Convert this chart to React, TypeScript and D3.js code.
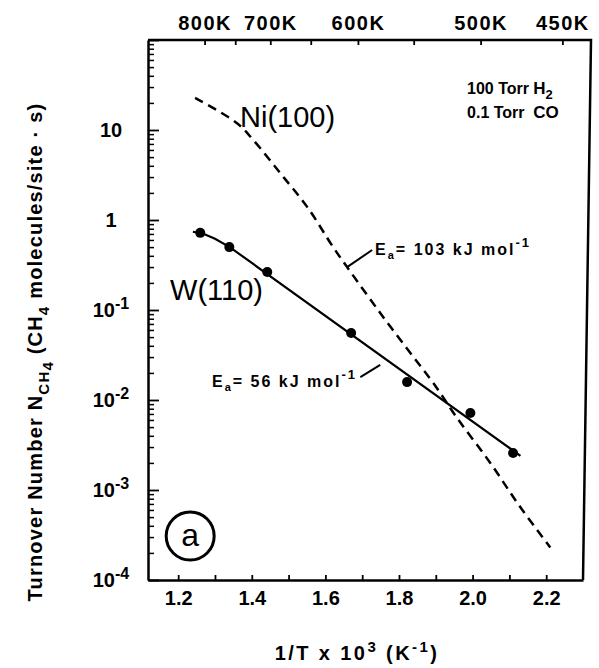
import React, { useEffect, useRef } from 'react';
import * as d3 from 'd3';

// W(110) measured points and fitted line
const w110X = [1.26, 1.339, 1.442, 1.670, 1.822, 1.994, 2.110];
const w110Y = [0.72, 0.50, 0.264, 0.0555, 0.0158, 0.00718, 0.00258];
const w110FitX = [1.24, 1.27, 1.30, 1.34, 2.13];
const w110FitY = [0.74, 0.70, 0.62, 0.50, 0.0024];

// Ni(100) dashed curve
const ni100X = [1.246, 1.360, 1.404, 1.477, 1.551, 1.621, 1.659, 1.749, 1.839, 1.893, 1.958, 2.048, 2.129, 2.211];
const ni100Y = [22.7, 11.9, 7.74, 3.33, 1.39, 0.50, 0.30, 0.0926, 0.0301, 0.0155, 0.0063, 0.0020, 0.00065, 0.00023];

// axes
const xTickValues = [1.2, 1.3, 1.4, 1.5, 1.6, 1.7, 1.8, 1.9, 2.0, 2.1, 2.2];
const xTickLabels = ['1.2', '', '1.4', '', '1.6', '', '1.8', '', '2.0', '', '2.2'];
const topTemps = [800, 750, 700, 650, 600, 550, 500, 450];
const topLabels = ['800K', '', '700K', '', '600K', '', '500K', '450K'];
const yMajor = [1e-4, 1e-3, 1e-2, 1e-1, 1, 10, 100];
const yLabelBase = ['10', '10', '10', '10', '1', '10', ''];
const yLabelExp = ['-4', '-3', '-2', '-1', '', '', ''];

const FONT = "'Liberation Sans', Arial, Helvetica, sans-serif";

export default function App() {
  const ref = useRef<SVGSVGElement>(null);

  useEffect(() => {
    document.body.style.margin = '0';
    const svg = d3.select(ref.current);
    svg.selectAll('*').remove();

    const x = d3.scaleLinear().domain([1.118, 2.300]).range([148, 583]);
    const y = d3.scaleLog().domain([1e-4, 1e2]).range([580, 40]);
    const [x0, x1] = x.range();
    const [yb, yt] = y.range();
    const topShift = 8; // top axis drawn slightly offset, as in the scan

    // ---------- frame / axes ----------
    const bottom = svg.append('g')
      .attr('transform', `translate(0,${yb})`)
      .call(d3.axisBottom(x).tickValues(xTickValues).tickSize(-5).tickSizeOuter(0)
        .tickPadding(11).tickFormat((d, i) => xTickLabels[i]));
    bottom.select('.domain').attr('stroke-width', 2.5);
    bottom.selectAll('.tick line').attr('stroke-width', 1.8);
    bottom.selectAll('.tick text').attr('font-family', FONT).attr('font-size', 20)
      .attr('font-weight', 'bold').attr('fill', '#000');

    const left = svg.append('g')
      .attr('transform', `translate(${x0},0)`)
      .call(d3.axisLeft(y).tickValues(yMajor).tickSize(-11).tickSizeOuter(0).tickFormat(() => ''));
    left.select('.domain').attr('stroke-width', 2.5);
    left.selectAll('.tick line').attr('stroke-width', 1.8);

    const minors: number[] = [];
    for (let e = -4; e < 2; e++) for (let k = 2; k <= 9; k++) minors.push(k * Math.pow(10, e));
    const leftMinor = svg.append('g')
      .attr('transform', `translate(${x0},0)`)
      .call(d3.axisLeft(y).tickValues(minors).tickSize(-6).tickSizeOuter(0).tickFormat(() => ''));
    leftMinor.select('.domain').remove();
    leftMinor.selectAll('.tick line').attr('stroke-width', 1.5);

    // y tick labels with superscripts
    const yl = svg.append('g').selectAll('text').data(yMajor).join('text')
      .attr('x', 111).attr('y', d => y(d) + 7)
      .attr('text-anchor', 'middle')
      .attr('font-family', FONT).attr('font-size', 20).attr('font-weight', 'bold');
    yl.append('tspan').text((d, i) => yLabelBase[i]);
    yl.append('tspan').text((d, i) => yLabelExp[i]).attr('font-size', 16).attr('dy', -8);

    const top = svg.append('g')
      .attr('transform', `translate(${topShift},${yt})`)
      .call(d3.axisTop(x).tickValues(topTemps.map(t => 1000 / t)).tickSize(-5).tickSizeOuter(0)
        .tickPadding(10).tickFormat((d, i) => topLabels[i]));
    top.select('.domain').remove();
    top.selectAll('.tick line').attr('stroke-width', 1.8);
    top.selectAll('.tick text').attr('font-family', FONT).attr('font-size', 20)
      .attr('font-weight', 'bold').attr('fill', '#000').attr('letter-spacing', 1.5);

    // top edge and right edge (slightly skewed in the scan)
    svg.append('path')
      .attr('d', `M${x0},${yt}L${x1 + topShift},${yt}L${x1},${yb}`)
      .attr('fill', 'none').attr('stroke', '#000').attr('stroke-width', 2.5);

    // ---------- Ni(100) dashed ----------
    svg.append('path')
      .datum(ni100X)
      .attr('d', d3.line<number>().x(d => x(d)).y((d, i) => y(ni100Y[i])).curve(d3.curveCatmullRom))
      .attr('fill', 'none').attr('stroke', '#000').attr('stroke-width', 2.5)
      .attr('stroke-dasharray', '9,6');

    // ---------- W(110) ----------
    svg.append('path')
      .datum(w110FitX)
      .attr('d', d3.line<number>().x(d => x(d)).y((d, i) => y(w110FitY[i])))
      .attr('fill', 'none').attr('stroke', '#000').attr('stroke-width', 2.2);

    svg.append('g').selectAll('circle').data(w110X).join('circle')
      .attr('cx', d => x(d)).attr('cy', (d, i) => y(w110Y[i]))
      .attr('r', 5).attr('fill', '#000');

    // ---------- labels ----------
    const txt = (xv: number, yv: number) => svg.append('text')
      .attr('x', x(xv)).attr('y', y(yv)).attr('font-family', FONT).attr('fill', '#000');

    txt(1.368, 10.8).attr('font-size', 29).text('Ni(100)');
    txt(1.178, 0.129).attr('font-size', 29).text('W(110)');

    const t1 = txt(1.985, 25.1).attr('font-size', 16).attr('font-weight', 'bold');
    t1.append('tspan').text('100 Torr');
    t1.append('tspan').attr('x', x(2.165)).attr('font-size', 17).text('H');
    t1.append('tspan').attr('font-size', 13).attr('dy', 5).text('2');
    const t2 = txt(1.985, 13.6).attr('font-size', 16).attr('font-weight', 'bold');
    t2.append('tspan').text('0.1 Torr');
    t2.append('tspan').attr('x', x(2.165)).attr('font-size', 17).text('CO');

    // activation energy notes
    const eaNote = (xv: number, yv: number, val: string, anchor: string) => {
      const t = txt(xv, yv).attr('font-size', 16).attr('font-weight', 'bold')
        .attr('letter-spacing', 2).attr('text-anchor', anchor);
      t.append('tspan').text('E');
      t.append('tspan').attr('font-size', 11).attr('dy', 4).text('a');
      t.append('tspan').attr('dy', -4).text(`= ${val} kJ mol`);
      t.append('tspan').attr('font-size', 13).attr('dy', -8).text('-1');
    };
    eaNote(1.735, 0.408, '103', 'start');
    eaNote(1.686, 0.0139, '56', 'end');

    const leaderX = [[1.659, 1.727], [1.695, 1.749]];
    const leaderY = [[0.30, 0.464], [0.018, 0.0245]];
    svg.append('g').selectAll('line').data(leaderX).join('line')
      .attr('x1', d => x(d[0])).attr('x2', d => x(d[1]))
      .attr('y1', (d, i) => y(leaderY[i][0])).attr('y2', (d, i) => y(leaderY[i][1]))
      .attr('stroke', '#000').attr('stroke-width', 2);

    // panel mark (a)
    svg.append('circle').attr('cx', x(1.2326)).attr('cy', y(3.08e-4)).attr('r', 24)
      .attr('fill', 'none').attr('stroke', '#000').attr('stroke-width', 3);
    txt(1.2326, 3.08e-4).attr('font-size', 32).attr('text-anchor', 'middle')
      .attr('dy', 10).text('a');

    // axis titles
    const xt = svg.append('text').attr('x', 357).attr('y', 660).attr('text-anchor', 'middle')
      .attr('font-family', FONT).attr('font-size', 20).attr('font-weight', 'bold')
      .attr('letter-spacing', 2.4);
    xt.append('tspan').text('1/T x 10');
    xt.append('tspan').attr('font-size', 15).attr('dy', -8).text('3');
    xt.append('tspan').attr('dy', 8).text(' (K');
    xt.append('tspan').attr('font-size', 15).attr('dy', -8).text('-1');
    xt.append('tspan').attr('dy', 8).text(')');

    const ytl = svg.append('text').attr('transform', `translate(42,${(yb + yt) / 2 + 42}) rotate(-90)`)
      .attr('text-anchor', 'middle')
      .attr('font-family', FONT).attr('font-size', 20).attr('font-weight', 'bold')
      .attr('letter-spacing', 1.2);
    ytl.append('tspan').text('Turnover Number N');
    ytl.append('tspan').attr('font-size', 15).attr('dy', 7).text('CH');
    ytl.append('tspan').attr('font-size', 15).attr('dy', 4).text('4');
    ytl.append('tspan').attr('dy', -11).text('  (CH');
    ytl.append('tspan').attr('font-size', 15).attr('dy', 7).text('4');
    ytl.append('tspan').attr('dy', -7).text(' molecules/site \u00b7 s)');
  }, []);

  return <svg ref={ref} width={599} height={668} style={{ display: 'block', background: '#fff' }} />;
}
